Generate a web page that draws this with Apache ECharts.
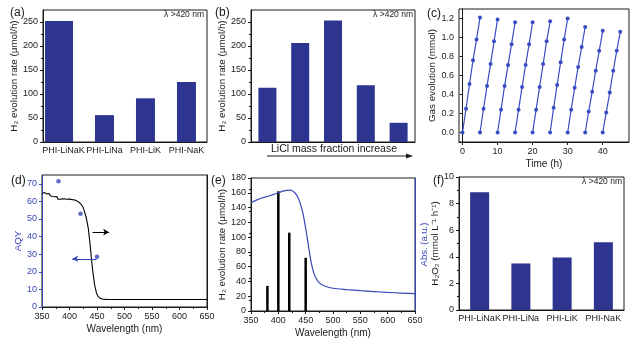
<!DOCTYPE html>
<html>
<head>
<meta charset="utf-8">
<script src="https://cdn.jsdelivr.net/npm/echarts@6/dist/echarts.min.js"></script>
<style>
  html, body { margin: 0; padding: 0; background: #fff; }
  #chart { width: 634px; height: 342px; }
</style>
</head>
<body>
<div id="chart"></div>
<script>
// (a) and (f): the four salt templates
var samples = ['PHI-LiNaK', 'PHI-LiNa', 'PHI-LiK', 'PHI-NaK'];
var h2Rate = [252, 56, 91, 125];
var h2o2Rate = [8.85, 3.5, 3.95, 5.1];

// (b) LiCl fraction series
var liclSteps = ['1', '2', '3', '4', '5'];
var liclRate = [113, 206, 253, 118, 40];

// (c) cycling test, one reading per hour, 5 h per cycle
var cycleStart = [0, 5, 10, 15, 20, 25, 30, 35, 40];
var cycleHours = [0, 1, 2, 3, 4, 5];
var cycleGas = [
  [0, 0.25, 0.51, 0.76, 0.98, 1.21],
  [0, 0.25, 0.49, 0.72, 0.96, 1.19],
  [0, 0.24, 0.49, 0.71, 0.93, 1.16],
  [0, 0.24, 0.48, 0.71, 0.93, 1.16],
  [0, 0.24, 0.48, 0.72, 0.96, 1.17],
  [0, 0.26, 0.50, 0.74, 0.98, 1.20],
  [0, 0.24, 0.47, 0.69, 0.90, 1.11],
  [0, 0.22, 0.43, 0.65, 0.86, 1.07],
  [0, 0.21, 0.42, 0.65, 0.86, 1.06]
];

// (d) AQY points + absorption edge
var aqyWl = [380, 420, 450];
var aqyVal = [71.5, 53, 28.5];
var absDWl = [350, 352, 355, 357, 359, 361, 363, 365, 367, 369, 371, 373, 375, 377, 378, 379, 381, 385, 390, 395, 400, 405, 410, 415, 420, 425, 428, 431, 434, 437, 440, 443, 446, 449, 452, 456, 460, 470, 500, 550, 600, 650];
var absDVal = [64.5, 64.0, 65.0, 65.8, 64.2, 63.8, 64.5, 63.2, 63.8, 62.8, 63.5, 62.6, 63.0, 62.8, 63.6, 61.2, 61.6, 61.3, 61.5, 61.2, 61.3, 61.0, 60.8, 60.0, 58.8, 56.5, 53.5, 50, 45, 37, 27, 18.5, 12, 8, 6, 4.9, 4.5, 4.3, 4.3, 4.3, 4.3, 4.3];

// (e) monochromatic H2 rates + absorption spectrum
var monoWl = [380, 400, 420, 450];
var monoRate = [34, 162, 106, 72];
var absEWl = [350, 360, 370, 380, 390, 400, 410, 420, 425, 430, 435, 440, 445, 450, 455, 460, 465, 470, 475, 480, 490, 500, 525, 550, 575, 600, 625, 650];
var absEVal = [146.5, 150, 153, 155, 157.5, 160, 162.5, 163.5, 163, 160, 155, 146, 132, 112, 89, 66, 51, 43, 38, 35.5, 32.5, 30.8, 29, 27.5, 26.3, 25.2, 24.3, 23.5];

var font = 'Liberation Sans, Arial, sans-serif';
var ink = '#1a1a1a';
var blue = '#3646b5';
var barBlue = '#2d3590';

function grid(left, top, width, height) {
  return { left: left, top: top, width: width, height: height, show: true,
    borderColor: ink, borderWidth: 1, backgroundColor: 'transparent' };
}

function yAxis(gi, min, max, ticks, opt) {
  opt = opt || {};
  var c = opt.color || ink;
  return {
    type: 'value', gridIndex: gi, min: min, max: max,
    axisLine: { show: true, lineStyle: { color: c } },
    axisTick: { show: true, length: 3, customValues: ticks, lineStyle: { color: c } },
    minorTick: { show: opt.minor !== false, splitNumber: 2, length: 2, lineStyle: { color: c } },
    axisLabel: { customValues: ticks, formatter: opt.fmt, fontSize: 9, color: c, margin: 5, fontFamily: font },
    splitLine: { show: false },
    name: opt.name, nameLocation: 'middle', nameGap: opt.gap || 22, nameRotate: 90,
    nameTextStyle: { fontSize: 9.8, color: c, fontFamily: font }
  };
}

function xVal(gi, min, max, ticks, opt) {
  opt = opt || {};
  return {
    type: 'value', gridIndex: gi, min: min, max: max,
    axisLine: { show: true, onZero: false, lineStyle: { color: ink } },
    axisTick: { show: true, length: 3, customValues: ticks, lineStyle: { color: ink } },
    minorTick: { show: opt.minor !== false, splitNumber: 2, length: 2, lineStyle: { color: ink } },
    axisLabel: { customValues: ticks, fontSize: 9, color: ink, margin: 5, fontFamily: font },
    splitLine: { show: false },
    name: opt.name, nameLocation: 'middle', nameGap: 17,
    nameTextStyle: { fontSize: 10, color: ink, fontFamily: font }
  };
}

function xCat(gi, cats, showLabel) {
  return {
    type: 'category', gridIndex: gi, data: cats,
    axisLine: { show: true, lineStyle: { color: ink } },
    axisTick: { show: false },
    axisLabel: { show: showLabel, fontSize: 9, color: ink, margin: 4, fontFamily: font, interval: 0 }
  };
}

function hiddenY(gi, min, max, color) {
  return { type: 'value', gridIndex: gi, min: min, max: max, position: 'right',
    axisLine: { show: true, lineStyle: { color: color || ink } },
    axisTick: { show: false }, axisLabel: { show: false }, splitLine: { show: false } };
}

var h2Name = 'H\u2082 evolution rate (\u03bcmol/h)';

var xAxes = [
  xCat(0, samples, true),
  xCat(1, liclSteps, false),
  xVal(2, -1, 47.5, [0, 10, 20, 30, 40], { name: 'Time (h)', minor: false }),
  xVal(3, 350, 650, [350, 400, 450, 500, 550, 600, 650], { name: 'Wavelength (nm)' }),
  xVal(4, 350, 650, [350, 400, 450, 500, 550, 600, 650], { name: 'Wavelength (nm)' }),
  xCat(5, samples, true)
];

var yAxes = [
  yAxis(0, 0, 275, [0, 50, 100, 150, 200, 250], { name: h2Name, gap: 22 }),
  yAxis(1, 0, 275, [0, 50, 100, 150, 200, 250], { name: h2Name, gap: 22 }),
  yAxis(2, -0.1, 1.3, [0, 0.2, 0.4, 0.6, 0.8, 1.0, 1.2], { name: 'Gas evolution (mmol)', gap: 19, minor: false,
    fmt: function (v) { return v.toFixed(1); } }),
  yAxis(3, 0, 75, [0, 10, 20, 30, 40, 50, 60, 70], { name: 'AQY', gap: 17, color: blue }),
  hiddenY(3, 0, 75),
  yAxis(4, 0, 180, [0, 20, 40, 60, 80, 100, 120, 140, 160, 180], { name: h2Name, gap: 22 }),
  hiddenY(4, 0, 180, blue),
  yAxis(5, 0, 10, [0, 2, 4, 6, 8, 10], { name: 'H\u2082O\u2082 (mmol L\u207b\u00b9 h\u207b\u00b9)', gap: 15 })
];
// name for (e) right axis
yAxes[6].name = 'Abs. (a.u.)';
yAxes[6].nameLocation = 'middle';
yAxes[6].nameRotate = 90;
yAxes[6].nameGap = 4;
yAxes[6].nameTextStyle = { fontSize: 9.5, color: blue, fontFamily: font };

var series = [];

// (a) the first bar is drawn wider than the others in the figure
series.push({ type: 'bar', xAxisIndex: 0, yAxisIndex: 0, barWidth: 19,
  data: ['-'].concat(h2Rate.slice(1)), itemStyle: { color: barBlue } });
series.push({ type: 'bar', xAxisIndex: 0, yAxisIndex: 0, barWidth: 28, barGap: '-147%',
  data: [h2Rate[0], '-', '-', '-'], itemStyle: { color: barBlue } });

// (b)
series.push({ type: 'bar', xAxisIndex: 1, yAxisIndex: 1, barWidth: 18,
  data: liclRate, itemStyle: { color: barBlue } });

// (c) one line per cycle
cycleGas.forEach(function (vals, i) {
  series.push({ type: 'line', xAxisIndex: 2, yAxisIndex: 2,
    data: vals.map(function (v, k) { return [cycleStart[i] + cycleHours[k], v]; }),
    symbol: 'circle', symbolSize: 4, lineStyle: { color: '#3a4cc4', width: 1.2 },
    itemStyle: { color: '#3a4cc4' } });
});

// (d)
series.push({ type: 'line', xAxisIndex: 3, yAxisIndex: 4, showSymbol: false,
  data: absDWl.map(function (w, i) { return [w, absDVal[i]]; }),
  lineStyle: { color: '#000', width: 1.1 } });
series.push({ type: 'scatter', xAxisIndex: 3, yAxisIndex: 3, symbolSize: 4.5,
  data: aqyWl.map(function (w, i) { return [w, aqyVal[i]]; }),
  itemStyle: { color: blue },
  markLine: { silent: true, symbol: ['none', 'arrow'], symbolSize: [5, 6], label: { show: false },
    data: [
      [{ coord: [442, 42.5], lineStyle: { color: '#000', width: 1, type: 'solid' }, itemStyle: { color: '#000' } }, { coord: [472, 42.5] }],
      [{ coord: [449, 27.4], lineStyle: { color: blue, width: 1, type: 'solid' }, itemStyle: { color: blue } }, { coord: [405, 27.4] }]
    ] } });

// (e)
series.push({ type: 'bar', xAxisIndex: 4, yAxisIndex: 5, barWidth: 2.5,
  data: monoWl.map(function (w, i) { return [w, monoRate[i]]; }), itemStyle: { color: '#000' } });
series.push({ type: 'line', xAxisIndex: 4, yAxisIndex: 6, showSymbol: false, smooth: 0.3,
  data: absEWl.map(function (w, i) { return [w, absEVal[i]]; }),
  lineStyle: { color: blue, width: 1.2 } });

// (f)
series.push({ type: 'bar', xAxisIndex: 5, yAxisIndex: 7, barWidth: 19,
  data: h2o2Rate, itemStyle: { color: barBlue } });

function txt(x, y, s, size, align, color) {
  return { type: 'text', x: x, y: y, style: { text: s, fontSize: size, fontFamily: font,
    fill: color || ink, align: align || 'left', verticalAlign: 'middle' } };
}

var graphics = [
  txt(10, 13, '(a)', 12), txt(215, 13, '(b)', 12), txt(427, 14, '(c)', 12),
  txt(11, 181, '(d)', 12), txt(211, 181, '(e)', 12), txt(433, 181, '(f)', 12),
  txt(204, 15, '\u03bb >420 nm', 8.5, 'right'),
  txt(413, 15, '\u03bb >420 nm', 8.5, 'right'),
  txt(622, 182, '\u03bb >420 nm', 8.5, 'right'),
  txt(334, 149, 'LiCl mass fraction increase', 10.5, 'center'),
  { type: 'line', shape: { x1: 267, y1: 156, x2: 408, y2: 156 }, style: { stroke: ink, lineWidth: 1 } },
  { type: 'polygon', shape: { points: [[413, 156], [406, 153.5], [406, 158.5]] }, style: { fill: ink } }
];

var chart = echarts.init(document.getElementById('chart'));
chart.setOption({
  animation: false,
  textStyle: { fontFamily: font },
  grid: [
    grid(43, 10, 164, 132),
    grid(251, 10, 164, 132),
    grid(459, 9, 170, 133),
    grid(42, 175, 165, 132),
    grid(251, 178, 164, 133),
    grid(459, 177, 165, 133)
  ],
  xAxis: xAxes,
  yAxis: yAxes,
  series: series,
  graphic: graphics
});
</script>
</body>
</html>
